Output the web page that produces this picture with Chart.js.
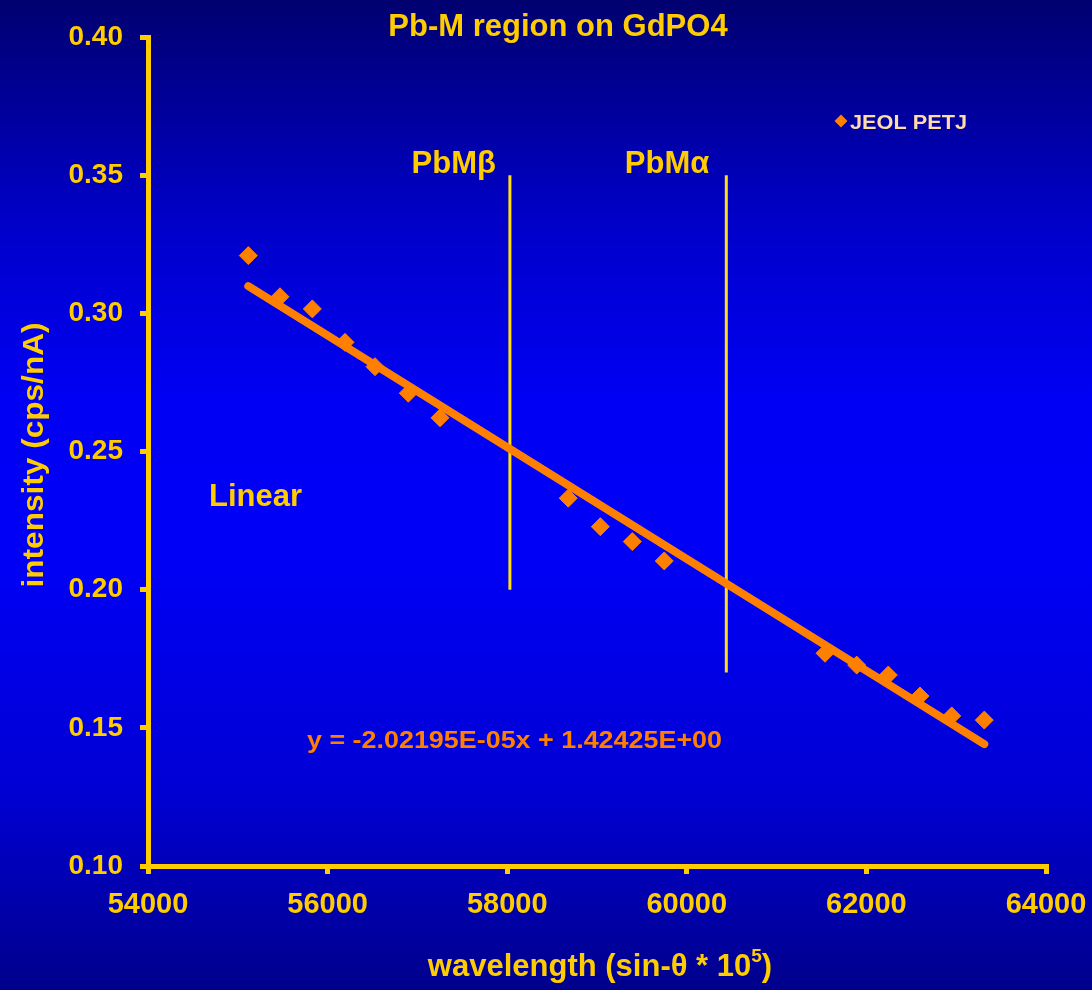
<!DOCTYPE html>
<html>
<head>
<meta charset="utf-8">
<title>Pb-M region on GdPO4</title>
<script src="https://cdn.jsdelivr.net/npm/chart.js@4/dist/chart.umd.min.js"></script>
<style>
  html, body { margin: 0; padding: 0; background: #0000c0; }
  #wrap { width: 1092px; height: 990px; }
</style>
</head>
<body>
<div id="wrap"><canvas id="c" width="1092" height="990"></canvas></div>
<script>
// Measured background counts on GdPO4 (JEOL PETJ crystal)
const wavelength = [55117, 55470, 55830, 56194, 56528, 56899, 57252,
                    58680, 59037, 59393, 59749,
                    61539, 61892, 62244, 62597, 62950, 63313];
const intensity  = [0.3209, 0.3060, 0.3016, 0.2895, 0.2807, 0.2711, 0.2622,
                    0.2331, 0.2228, 0.2174, 0.2104,
                    0.1770, 0.1727, 0.1691, 0.1615, 0.1543, 0.1528];

// Linear fit reported on the plot
const fitSlope = -2.02195E-05;
const fitIntercept = 1.42425E+00;
const fitLabel = 'y = -2.02195E-05x + 1.42425E+00';

// Peak positions marked with vertical lines
const peakNames = ['PbMβ', 'PbMα'];
const peakPos   = [58030, 60440];
const peakTop   = [0.35, 0.35];
const peakBot   = [0.20, 0.17];

// Axis ticks
const xTicks = [54000, 56000, 58000, 60000, 62000, 64000];
const yTicks = [0.10, 0.15, 0.20, 0.25, 0.30, 0.35, 0.40];
const yTickLabels = ['0.10', '0.15', '0.20', '0.25', '0.30', '0.35', '0.40'];

const YELLOW = '#FFCC00';
const ORANGE = '#FF8000';
const FONT = '"Liberation Sans", Arial, Helvetica, sans-serif';

const points = wavelength.map((x, i) => ({ x, y: intensity[i] }));
const xFirst = wavelength[0], xLast = wavelength[wavelength.length - 1];
const fitLine = [
  { x: xFirst, y: fitSlope * xFirst + fitIntercept },
  { x: xLast,  y: fitSlope * xLast  + fitIntercept }
];

const peakSets = peakPos.map((p, i) => ({
  type: 'line',
  label: peakNames[i],
  data: [{ x: p, y: peakTop[i] }, { x: p, y: peakBot[i] }],
  borderColor: '#FFDD10',
  borderWidth: 3,
  pointRadius: 0,
  fill: false,
  order: 3
}));

function drawText(ctx, s, x, y, size, color, align, fitWidth) {
  ctx.save();
  ctx.font = 'bold ' + size + 'px ' + FONT;
  ctx.fillStyle = color;
  ctx.textBaseline = 'alphabetic';
  const w = ctx.measureText(s).width;
  let sx = 1;
  if (fitWidth) sx = fitWidth / w;
  let left = x;
  if (align === 'center') left = x - (w * sx) / 2;
  else if (align === 'right') left = x - w * sx;
  ctx.translate(left, y);
  ctx.scale(sx, 1);
  ctx.textAlign = 'left';
  ctx.fillText(s, 0, 0);
  ctx.restore();
}

const background = {
  id: 'background',
  beforeDraw(chart) {
    const { ctx, width, height } = chart;
    const g = ctx.createLinearGradient(0, 0, 0, height);
    g.addColorStop(0.00, '#000070');
    g.addColorStop(0.22, '#0000C8');
    g.addColorStop(0.40, '#0000F4');
    g.addColorStop(0.55, '#0000F8');
    g.addColorStop(0.80, '#0000D4');
    g.addColorStop(1.00, '#00008C');
    ctx.save();
    ctx.fillStyle = g;
    ctx.fillRect(0, 0, width, height);
    ctx.restore();
  }
};

const annotations = {
  id: 'annotations',
  afterDraw(chart) {
    const ctx = chart.ctx;
    const xs = chart.scales.x;

    drawText(ctx, 'Pb-M region on GdPO4', 558, 36, 31, YELLOW, 'center');

    drawText(ctx, peakNames[0], xs.getPixelForValue(peakPos[0]) - 14, 173, 31, YELLOW, 'right');
    drawText(ctx, peakNames[1], xs.getPixelForValue(peakPos[1]) - 17, 173, 31, YELLOW, 'right');

    drawText(ctx, 'Linear', 209, 506, 31, YELLOW, 'left');
    drawText(ctx, fitLabel, 307, 748, 23, ORANGE, 'left', 415);

    // legend
    ctx.save();
    ctx.fillStyle = ORANGE;
    ctx.beginPath();
    const lx = 841, ly = 121, r = 6.5;
    ctx.moveTo(lx, ly - r); ctx.lineTo(lx + r, ly); ctx.lineTo(lx, ly + r); ctx.lineTo(lx - r, ly);
    ctx.closePath(); ctx.fill();
    ctx.restore();
    drawText(ctx, 'JEOL PETJ', 850, 129, 21, '#FFDCA8', 'left', 117);

    // y axis title
    ctx.save();
    ctx.translate(43, 455);
    ctx.rotate(-Math.PI / 2);
    drawText(ctx, 'intensity (cps/nA)', 0, 0, 30, YELLOW, 'center', 265);
    ctx.restore();

    // x axis title with superscript exponent
    ctx.save();
    const main = 'wavelength (sin-θ * 10';
    ctx.font = 'bold 31px ' + FONT;
    const w1 = ctx.measureText(main).width;
    ctx.font = 'bold 19px ' + FONT;
    const w2 = ctx.measureText('5').width;
    ctx.font = 'bold 31px ' + FONT;
    const w3 = ctx.measureText(')').width;
    const x0 = 600 - (w1 + w2 + w3) / 2;
    ctx.restore();
    drawText(ctx, main, x0, 976, 31, YELLOW, 'left');
    drawText(ctx, '5', x0 + w1, 962, 19, YELLOW, 'left');
    drawText(ctx, ')', x0 + w1 + w2, 976, 31, YELLOW, 'left');
  }
};

new Chart(document.getElementById('c'), {
  type: 'scatter',
  data: {
    datasets: [
      {
        type: 'scatter',
        label: 'JEOL PETJ',
        data: points,
        backgroundColor: ORANGE,
        borderColor: ORANGE,
        pointStyle: 'rectRot',
        pointRadius: 9,
        pointBorderWidth: 1,
        pointHoverRadius: 9,
        order: 1
      },
      {
        type: 'line',
        label: 'Linear',
        data: fitLine,
        borderColor: ORANGE,
        borderWidth: 8,
        borderCapStyle: 'round',
        pointRadius: 0,
        fill: false,
        order: 2
      },
      ...peakSets
    ]
  },
  options: {
    responsive: false,
    animation: false,
    events: [],
    layout: { padding: { left: 0, right: 46, top: 37, bottom: 0 } },
    plugins: {
      legend: { display: false },
      title: { display: false },
      tooltip: { enabled: false }
    },
    scales: {
      x: {
        type: 'linear',
        min: xTicks[0],
        max: xTicks[xTicks.length - 1],
        afterBuildTicks: s => { s.ticks = xTicks.map(v => ({ value: v })); },
        afterFit: s => { s.height = 124; s.paddingLeft = 0; s.paddingRight = 0; },
        grid: { drawOnChartArea: false, drawTicks: true, tickLength: 8, color: YELLOW, lineWidth: 5 },
        border: { display: true, color: YELLOW, width: 5 },
        ticks: {
          color: YELLOW,
          padding: 14,
          maxRotation: 0,
          font: { family: FONT, size: 29, weight: 'bold' },
          callback: v => String(v)
        }
      },
      y: {
        type: 'linear',
        min: yTicks[0],
        max: yTicks[yTicks.length - 1],
        afterBuildTicks: s => { s.ticks = yTicks.map(v => ({ value: v })); },
        afterFit: s => { s.width = 148; s.paddingTop = 0; s.paddingBottom = 0; },
        grid: { drawOnChartArea: false, drawTicks: true, tickLength: 8, color: YELLOW, lineWidth: 5 },
        border: { display: true, color: YELLOW, width: 5 },
        ticks: {
          color: YELLOW,
          padding: 17,
          font: { family: FONT, size: 28, weight: 'bold' },
          callback: v => yTickLabels[yTicks.findIndex(t => Math.abs(t - v) < 1e-9)]
        }
      }
    }
  },
  plugins: [background, annotations]
});
</script>
</body>
</html>
